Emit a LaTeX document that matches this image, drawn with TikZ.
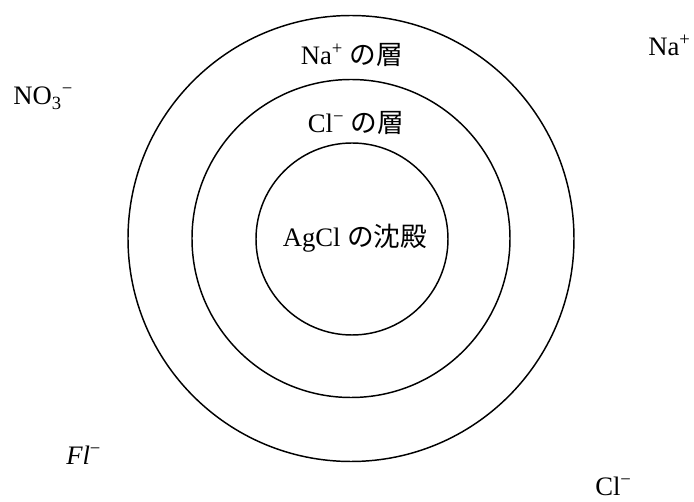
\documentclass[tikz,border=0pt]{standalone}
\usepackage{fontspec}
\setmainfont{Liberation Serif}
\newfontfamily\jp{Noto Sans CJK JP}
\begin{document}
\begin{tikzpicture}[x=0.75pt,y=-0.75pt,
  ring/.style={draw, circle, line width=1.1pt, inner sep=0pt},
  lbl/.style={font=\fontsize{20}{24}\selectfont, inner sep=0pt}]
\useasboundingbox (0,0) rectangle (694,502);
\node[ring, minimum size=334.5pt] (outer) at (351,238.5) {};
\node[ring, minimum size=238.5pt] (middle) at (351,238.5) {};
\node[ring, minimum size=144pt] (inner) at (352,239) {};
\node[lbl] (nalayer) at (352,55) {Na\textsuperscript{+} {\jp の層}};
\node[lbl] (cllayer) at (356,123) {Cl\textsuperscript{−} {\jp の層}};
\node[lbl] (agcl) at (355,238) {AgCl {\jp の沈殿}};
\node[lbl, anchor=base west] (no3) at (13,105) {NO\textsubscript{3}\textsuperscript{−}};
\node[lbl, anchor=base west] (na) at (648,56) {Na\textsuperscript{+}};
\node[lbl, anchor=base west] (fl) at (66,465) {\textit{Fl}\textsuperscript{−}};
\node[lbl, anchor=base west] (cl) at (595,496) {Cl\textsuperscript{−}};
\end{tikzpicture}
\end{document}
